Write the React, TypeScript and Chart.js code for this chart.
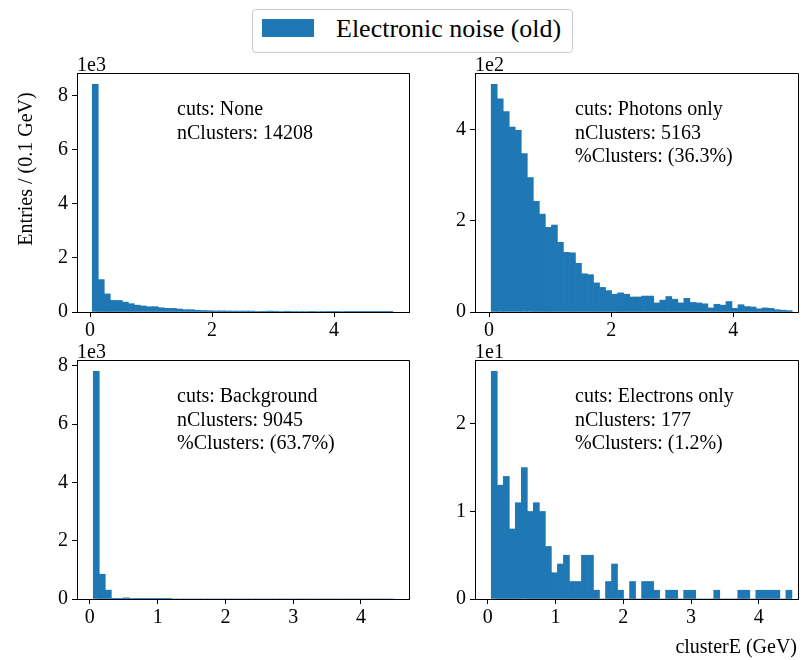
import { useEffect, useRef } from 'react';
import { Chart, registerables } from 'chart.js';

Chart.register(...registerables);

const FONT = "'Liberation Serif', 'Times New Roman', serif";
const BAR_COLOR = '#1f77b4';

const LEGEND_LABEL = 'Electronic noise (old)';
const Y_TITLE = 'Entries / (0.1 GeV)';
const X_TITLE = 'clusterE (GeV)';

// Histogram binning (50 bins per panel)
const TOP_BIN_START = 0.035;
const TOP_BIN_WIDTH = 0.0986;
const BOTTOM_BIN_START = 0.05;
const BOTTOM_BIN_WIDTH = 0.0888;

// Counts per bin
const ALL_COUNTS = [
  8430, 1200, 670, 429, 425, 366, 309, 253, 223, 193,
  197, 158, 135, 134, 110, 87, 85, 66, 56, 49,
  40, 43, 40, 34, 34, 36, 35, 21, 26, 35,
  28, 21, 30, 22, 20, 18, 9, 18, 15, 24,
  8, 17, 12, 11, 7, 9, 8, 5, 4, 3,
];
const PHOTON_COUNTS = [
  500, 468, 440, 406, 399, 348, 295, 243, 215, 186,
  191, 153, 131, 130, 107, 84, 82, 64, 54, 47,
  39, 42, 39, 33, 33, 35, 35, 20, 26, 34,
  28, 20, 30, 21, 20, 18, 9, 17, 15, 23,
  8, 16, 12, 11, 7, 9, 8, 5, 4, 3,
];
const BACKGROUND_COUNTS = [
  7810, 850, 305, 8, 6, 41, 6, 5, 4, 3,
  3, 2, 2, 0, 0, 0, 0, 0, 0, 0,
  0, 0, 0, 0, 0, 0, 0, 0, 0, 0,
  0, 0, 0, 0, 0, 0, 0, 0, 0, 0,
  0, 0, 0, 0, 0, 0, 0, 0, 0, 0,
];
const ELECTRON_COUNTS = [
  26, 13, 14, 8, 11, 15, 10, 11, 10, 6,
  3, 4, 5, 2, 2, 5, 5, 1, 0, 2,
  4, 1, 0, 2, 0, 2, 2, 1, 0, 1,
  1, 0, 1, 1, 0, 0, 0, 1, 0, 0,
  0, 1, 1, 0, 1, 1, 1, 1, 0, 1,
];

// Tick positions (y ticks in units of the axis scale factor)
const TOP_X_TICKS = [0, 2, 4];
const BOTTOM_X_TICKS = [0, 1, 2, 3, 4];
const ALL_Y_TICKS = [0, 2, 4, 6, 8];
const PHOTON_Y_TICKS = [0, 2, 4];
const BACKGROUND_Y_TICKS = [0, 2, 4, 6, 8];
const ELECTRON_Y_TICKS = [0, 1, 2];

const ALL_TEXT = ['cuts: None', 'nClusters: 14208'];
const PHOTON_TEXT = ['cuts: Photons only', 'nClusters: 5163', '%Clusters: (36.3%)'];
const BACKGROUND_TEXT = ['cuts: Background', 'nClusters: 9045', '%Clusters: (63.7%)'];
const ELECTRON_TEXT = ['cuts: Electrons only', 'nClusters: 177', '%Clusters: (1.2%)'];

type Panel = {
  counts: number[];
  binStart: number;
  binWidth: number;
  xMin: number;
  xMax: number;
  xTicks: number[];
  yTicks: number[];
  yExp: number;
  lines: string[];
  left: number;
  top: number;
  width: number;
  height: number;
  yAxisWidth: number;
  padTop: number;
  padRight: number;
  xAxisHeight: number;
  yTitle?: boolean;
  xTitle?: boolean;
};

const PANELS: Panel[] = [
  {
    counts: ALL_COUNTS, binStart: TOP_BIN_START, binWidth: TOP_BIN_WIDTH,
    xMin: -0.215, xMax: 5.23, xTicks: TOP_X_TICKS, yTicks: ALL_Y_TICKS, yExp: 3, lines: ALL_TEXT,
    left: 0, top: 56, width: 420, height: 300, yAxisWidth: 77, padTop: 17, padRight: 11, xAxisHeight: 44,
    yTitle: true,
  },
  {
    counts: PHOTON_COUNTS, binStart: TOP_BIN_START, binWidth: TOP_BIN_WIDTH,
    xMin: -0.23, xMax: 5.06, xTicks: TOP_X_TICKS, yTicks: PHOTON_Y_TICKS, yExp: 2, lines: PHOTON_TEXT,
    left: 420, top: 56, width: 382, height: 300, yAxisWidth: 55, padTop: 17, padRight: 4, xAxisHeight: 44,
  },
  {
    counts: BACKGROUND_COUNTS, binStart: BOTTOM_BIN_START, binWidth: BOTTOM_BIN_WIDTH,
    xMin: -0.19, xMax: 4.71, xTicks: BOTTOM_X_TICKS, yTicks: BACKGROUND_Y_TICKS, yExp: 3, lines: BACKGROUND_TEXT,
    left: 0, top: 340, width: 420, height: 320, yAxisWidth: 77, padTop: 20, padRight: 11, xAxisHeight: 61,
  },
  {
    counts: ELECTRON_COUNTS, binStart: BOTTOM_BIN_START, binWidth: BOTTOM_BIN_WIDTH,
    xMin: -0.19, xMax: 4.58, xTicks: BOTTOM_X_TICKS, yTicks: ELECTRON_Y_TICKS, yExp: 1, lines: ELECTRON_TEXT,
    left: 420, top: 340, width: 382, height: 320, yAxisWidth: 55, padTop: 20, padRight: 4, xAxisHeight: 61,
    xTitle: true,
  },
];

const align = (v: number) => Math.round(v - 0.5) + 0.5;

function decorPlugin(p: Panel) {
  return {
    id: 'panelDecor',
    afterDraw(chart: Chart) {
      const { ctx, chartArea: a } = chart;
      ctx.save();
      // top and right spines
      ctx.strokeStyle = '#000';
      ctx.lineWidth = 1;
      ctx.beginPath();
      ctx.moveTo(align(a.left), align(a.top));
      ctx.lineTo(align(a.right), align(a.top));
      ctx.lineTo(align(a.right), align(a.bottom));
      ctx.stroke();

      ctx.fillStyle = '#000';
      ctx.font = `20px ${FONT}`;
      ctx.textAlign = 'left';
      ctx.textBaseline = 'alphabetic';
      // axis scale factor
      ctx.fillText(`1e${p.yExp}`, a.left, a.top - 2);
      // cut summary
      p.lines.forEach((t, i) => ctx.fillText(t, a.left + 100, a.top + 42 + i * 23.5));

      if (p.yTitle) {
        ctx.save();
        ctx.translate(31.5, a.top + 96);
        ctx.rotate(-Math.PI / 2);
        ctx.textAlign = 'center';
        ctx.fillText(Y_TITLE, 0, 0);
        ctx.restore();
      }
      if (p.xTitle) {
        ctx.textAlign = 'right';
        ctx.fillText(X_TITLE, a.right - 1, a.bottom + 54);
      }
      ctx.restore();
    },
  };
}

function HistPanel({ p }: { p: Panel }) {
  const ref = useRef<HTMLCanvasElement>(null);
  useEffect(() => {
    const scale = Math.pow(10, p.yExp);
    const yMax = Math.max(...p.counts) * 1.05;
    const tickFont = { family: FONT, size: 20 };
    const grid = { drawOnChartArea: false, drawTicks: true, tickLength: 5, color: '#000', tickWidth: 1, offset: false };
    const border = { display: true, color: '#000', width: 1 };
    const chart = new Chart(ref.current!, {
      type: 'bar',
      data: {
        datasets: [
          {
            label: LEGEND_LABEL,
            data: p.counts.map((c, i) => ({ x: p.binStart + (i + 0.5) * p.binWidth, y: c })),
            backgroundColor: BAR_COLOR,
            borderWidth: 0,
            barPercentage: 1,
            categoryPercentage: 1,
          },
        ],
      },
      options: {
        animation: false,
        responsive: false,
        layout: { padding: { top: p.padTop, right: p.padRight, left: 0, bottom: 0 } },
        plugins: { legend: { display: false }, tooltip: { enabled: false } },
        scales: {
          x: {
            type: 'linear',
            offset: false,
            min: p.xMin,
            max: p.xMax,
            afterFit: (s: any) => { s.height = p.xAxisHeight; },
            afterBuildTicks: (s: any) => { s.ticks = p.xTicks.map((v) => ({ value: v })); },
            ticks: {
              autoSkip: false, maxRotation: 0, minRotation: 0,
              font: tickFont, color: '#000', padding: 2,
              callback: (v: any) => String(v),
            },
            grid, border,
          },
          y: {
            type: 'linear',
            min: 0,
            max: yMax,
            afterFit: (s: any) => { s.width = p.yAxisWidth; },
            afterBuildTicks: (s: any) => { s.ticks = p.yTicks.map((v) => ({ value: v * scale })); },
            ticks: {
              autoSkip: false,
              font: tickFont, color: '#000', padding: 4,
              callback: (v: any) => String(Math.round(Number(v) / scale)),
            },
            grid, border,
          },
        },
      } as any,
      plugins: [decorPlugin(p)],
    });
    return () => chart.destroy();
  }, [p]);
  return (
    <canvas
      ref={ref}
      width={p.width}
      height={p.height}
      style={{ position: 'absolute', left: p.left, top: p.top, width: p.width, height: p.height }}
    />
  );
}

export default function App() {
  return (
    <div style={{ position: 'absolute', left: 0, top: 0, width: 802, height: 660, background: '#fff', overflow: 'hidden' }}>
      {PANELS.map((p, i) => (
        <HistPanel key={i} p={p} />
      ))}
      <div
        style={{
          position: 'absolute', left: 252, top: 9, width: 319, height: 42,
          border: '1px solid #cccccc', borderRadius: 4, background: '#fff',
        }}
      >
        <div style={{ position: 'absolute', left: 9, top: 9, width: 52, height: 18, background: BAR_COLOR }} />
        <div
          style={{
            position: 'absolute', left: 83, top: 4, font: `26px/29px ${FONT}`,
            whiteSpace: 'nowrap', color: '#000',
          }}
        >
          {LEGEND_LABEL}
        </div>
      </div>
    </div>
  );
}
